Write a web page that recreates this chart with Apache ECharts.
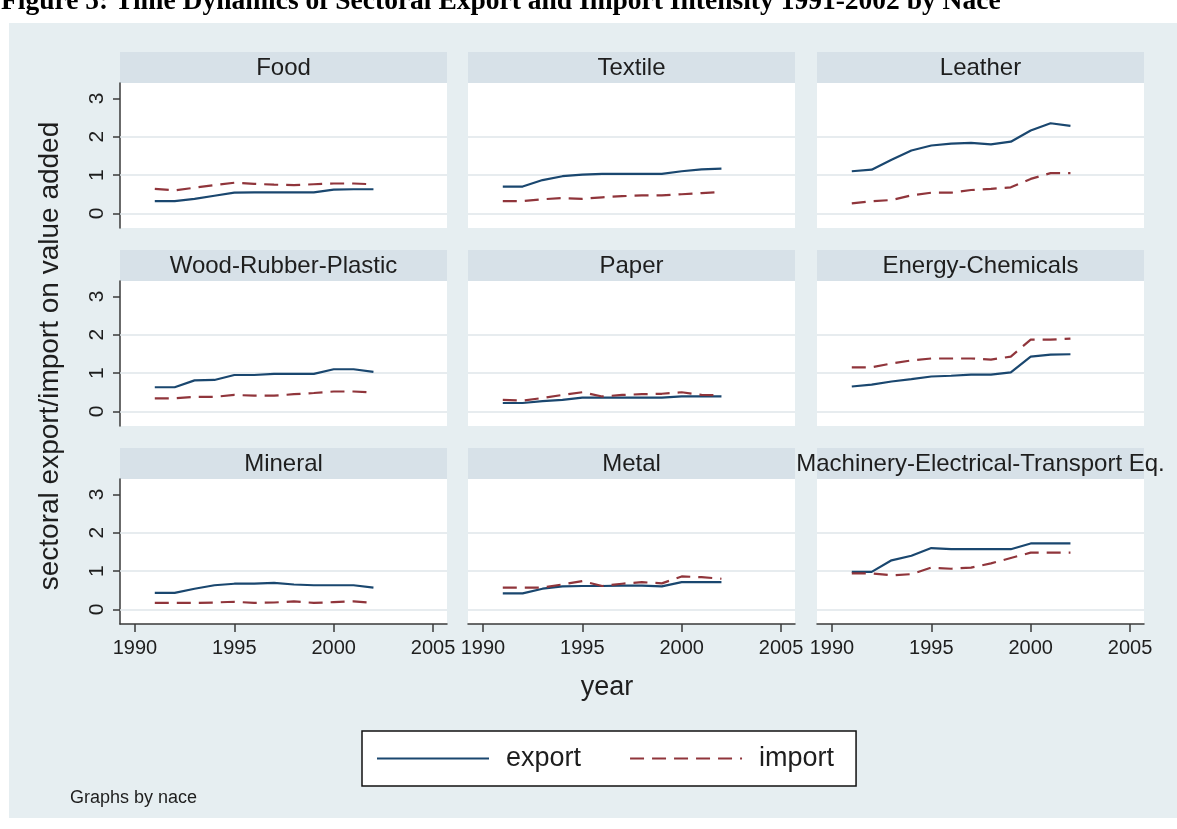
<!DOCTYPE html>
<html>
<head>
<meta charset="utf-8">
<script src="https://cdn.jsdelivr.net/npm/echarts@6/dist/echarts.min.js"></script>
<style>
html,body{margin:0;padding:0;background:#ffffff;}
#chart{width:1177px;height:829px;}
</style>
</head>
<body>
<div id="chart"></div>
<script>
// ---------- DATA ----------
const years = [1991,1992,1993,1994,1995,1996,1997,1998,1999,2000,2001,2002];
const sectors = ["Food","Textile","Leather","Wood-Rubber-Plastic","Paper","Energy-Chemicals","Mineral","Metal","Machinery-Electrical-Transport Eq."];
const seriesNames = ["export","import"];
const xTicks = [1990,1995,2000,2005];
const yTicks = [0,1,2,3];
const yGrid = [0,1,2];

const exportFood      = [0.32,0.32,0.38,0.46,0.54,0.55,0.55,0.55,0.55,0.62,0.63,0.63];
const importFood      = [0.64,0.60,0.67,0.74,0.80,0.77,0.75,0.74,0.76,0.78,0.78,0.76];
const exportTextile   = [0.70,0.70,0.87,0.97,1.01,1.03,1.03,1.03,1.03,1.10,1.15,1.17];
const importTextile   = [0.32,0.32,0.37,0.40,0.38,0.42,0.45,0.47,0.47,0.50,0.53,0.56];
const exportLeather   = [1.10,1.14,1.40,1.64,1.77,1.82,1.84,1.80,1.87,2.16,2.35,2.28];
const importLeather   = [0.26,0.32,0.35,0.47,0.54,0.54,0.61,0.64,0.68,0.90,1.05,1.05];
const exportWood      = [0.63,0.63,0.81,0.82,0.95,0.95,0.98,0.98,0.98,1.10,1.10,1.03];
const importWood      = [0.34,0.34,0.38,0.38,0.43,0.41,0.41,0.45,0.48,0.52,0.52,0.49];
const exportPaper     = [0.22,0.22,0.27,0.30,0.36,0.36,0.36,0.36,0.36,0.39,0.39,0.39];
const importPaper     = [0.30,0.28,0.35,0.43,0.50,0.39,0.43,0.45,0.46,0.50,0.43,0.42];
const exportEnergy    = [0.65,0.70,0.78,0.84,0.91,0.93,0.96,0.96,1.02,1.43,1.48,1.49];
const importEnergy    = [1.15,1.15,1.25,1.33,1.38,1.38,1.38,1.35,1.43,1.87,1.87,1.90];
const exportMineral   = [0.43,0.43,0.54,0.63,0.67,0.67,0.69,0.65,0.63,0.63,0.63,0.57];
const importMineral   = [0.17,0.17,0.17,0.18,0.20,0.17,0.18,0.21,0.17,0.19,0.21,0.17];
const exportMetal     = [0.42,0.42,0.54,0.60,0.61,0.61,0.62,0.62,0.60,0.71,0.71,0.71];
const importMetal     = [0.57,0.57,0.57,0.65,0.74,0.61,0.67,0.71,0.68,0.86,0.84,0.80];
const exportMachinery = [0.98,0.98,1.28,1.40,1.60,1.57,1.57,1.57,1.57,1.72,1.72,1.72];
const importMachinery = [0.94,0.94,0.89,0.92,1.09,1.06,1.09,1.20,1.34,1.48,1.48,1.48];

const exportSeries = [exportFood,exportTextile,exportLeather,exportWood,exportPaper,exportEnergy,exportMineral,exportMetal,exportMachinery];
const importSeries = [importFood,importTextile,importLeather,importWood,importPaper,importEnergy,importMineral,importMetal,importMachinery];

// ---------- LAYOUT / STYLE ----------
const FONT = '"Liberation Sans", Arial, Helvetica, sans-serif';
const TXT = '#1e1e1e';
const BG = '#e6eef1';
const STRIP = '#d7e1e8';
const GRIDC = '#dfe6ea';
const AXC = '#3a3a3a';
const EXPC = '#1a476f';
const IMPC = '#90353b';
const colLeft = [120, 468, 817];
const plotW = 327;
const plotTop = [83, 281, 479];
const plotH = 145;
const stripH = 31;

const grids = [], xAxes = [], yAxes = [], series = [], graphics = [];

graphics.push({type:'rect', z:-5, shape:{x:9, y:23, width:1168, height:795}, style:{fill:BG}, silent:true});
graphics.push({type:'text', z:5, left:1, top:-12, style:{text:'Figure 5: Time Dynamics of Sectoral Export and Import Intensity 1991-2002 by Nace', font:'bold 27.5px "Liberation Serif", "Times New Roman", serif', fill:'#000'}});

for (let i = 0; i < 9; i++) {
  const r = Math.floor(i / 3), c = i % 3;
  grids.push({left: colLeft[c], top: plotTop[r], width: plotW, height: plotH, show: true, backgroundColor: '#ffffff', borderWidth: 0, containLabel: false});
  const bottomRow = r === 2, leftCol = c === 0;
  xAxes.push({
    gridIndex: i, type: 'value', min: 1989.25, max: 2005.7,
    axisLine: {show: bottomRow, onZero: false, lineStyle: {color: AXC, width: 1.5}},
    axisTick: {show: bottomRow, length: 8, customValues: xTicks, lineStyle: {color: AXC, width: 1.5}},
    axisLabel: {show: bottomRow, customValues: xTicks, formatter: v => String(v), fontSize: 20, fontFamily: FONT, color: TXT, margin: 14},
    splitLine: {show: false}
  });
  yAxes.push({
    gridIndex: i, type: 'value', min: -0.38, max: 3.4,
    axisLine: {show: leftCol, onZero: false, lineStyle: {color: AXC, width: 1.5}},
    axisTick: {show: leftCol, length: 7, customValues: yTicks, lineStyle: {color: AXC, width: 1.5}},
    axisLabel: {show: leftCol, customValues: yTicks, formatter: v => String(v), rotate: 90, fontSize: 21, fontFamily: FONT, color: TXT, margin: 12},
    splitLine: {show: false}
  });
  series.push({
    name: seriesNames[0], type: 'line', xAxisIndex: i, yAxisIndex: i,
    data: years.map((y, k) => [y, exportSeries[i][k]]),
    symbol: 'none', z: 3,
    lineStyle: {color: EXPC, width: 2.2},
    itemStyle: {color: EXPC},
    markLine: {
      silent: true, z: 1, symbol: ['none','none'], label: {show: false}, animation: false,
      lineStyle: {color: GRIDC, width: 1.5, type: 'solid'},
      emphasis: {disabled: true},
      data: yGrid.map(v => ({yAxis: v}))
    }
  });
  series.push({
    name: seriesNames[1], type: 'line', xAxisIndex: i, yAxisIndex: i,
    data: years.map((y, k) => [y, importSeries[i][k]]),
    symbol: 'none', z: 3,
    lineStyle: {color: IMPC, width: 2.2, type: [14, 8]},
    itemStyle: {color: IMPC}
  });
  // strip header
  graphics.push({type:'rect', z:-1, shape:{x: colLeft[c], y: plotTop[r] - stripH, width: plotW, height: stripH}, style:{fill: STRIP}, silent: true});
  graphics.push({type:'text', z:4, x: colLeft[c] + plotW / 2, y: plotTop[r] - stripH / 2 + 1,
    style:{text: sectors[i], font: '24px ' + FONT, fill: TXT, align: 'center', verticalAlign: 'middle'}, silent: true});
}

// axis titles & note
graphics.push({type:'text', z:4, x: 50, y: 356, rotation: Math.PI / 2,
  style:{text:'sectoral export/import on value added', font:'28px ' + FONT, fill: TXT, align:'center', verticalAlign:'middle'}});
graphics.push({type:'text', z:4, x: 607, y: 688,
  style:{text:'year', font:'27px ' + FONT, fill: TXT, align:'center', verticalAlign:'middle'}});
graphics.push({type:'text', z:4, x: 70, y: 798,
  style:{text:'Graphs by nace', font:'18px ' + FONT, fill: TXT, align:'left', verticalAlign:'middle'}});

const option = {
  animation: false,
  backgroundColor: '#ffffff',
  grid: grids,
  xAxis: xAxes,
  yAxis: yAxes,
  series: series,
  graphic: graphics,
  legend: {
    data: seriesNames,
    left: 362, top: 731,
    orient: 'horizontal',
    backgroundColor: '#ffffff', borderColor: '#111111', borderWidth: 1.5, borderRadius: 0,
    padding: [14, 22, 14, 14],
    itemWidth: 112, itemHeight: 22, itemGap: 48,
    itemStyle: {opacity: 0},
    textStyle: {fontSize: 27, fontFamily: FONT, color: TXT, padding: [0, 0, 0, 12]},
    selectedMode: false
  }
};

const chart = echarts.init(document.getElementById('chart'), null, {renderer: 'canvas'});
chart.setOption(option);
</script>
</body>
</html>
